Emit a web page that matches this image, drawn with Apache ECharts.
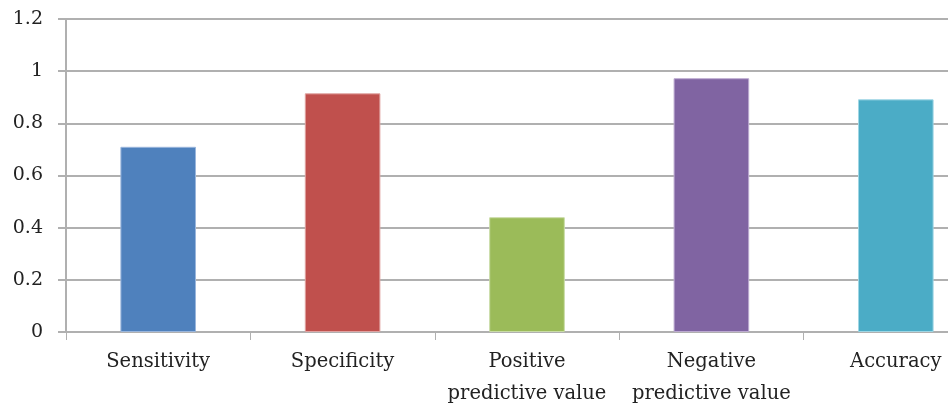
<!DOCTYPE html>
<html>
<head>
<meta charset="utf-8">
<script src="https://cdn.jsdelivr.net/npm/echarts@6/dist/echarts.min.js"></script>
<style>
  html, body { margin: 0; padding: 0; background: #ffffff; }
  #chart { width: 948px; height: 407px; }
</style>
</head>
<body>
<div id="chart"></div>
<script>
// Diagnostic performance measures
const categories = [
  'Sensitivity',
  'Specificity',
  'Positive\npredictive value',
  'Negative\npredictive value',
  'Accuracy'
];
const values = [0.71, 0.915, 0.44, 0.973, 0.892];
const barColors = ['#4f81bd', '#c0504d', '#9bbb59', '#8064a2', '#4bacc6'];
const edgeColors = ['#9ab6dc', '#e0a3a1', '#c9dca6', '#bcaad0', '#9fd6e4'];
const yTicks = { min: 0, max: 1.2, interval: 0.2 };

const fontFamily = '"DejaVu Serif", "Liberation Serif", serif';
const gridColor = '#b0b0b0';

const chart = echarts.init(document.getElementById('chart'), null, { renderer: 'canvas' });
chart.setOption({
  animation: false,
  backgroundColor: '#ffffff',
  // plot area runs past the right edge of the canvas
  grid: {
    left: 66, top: 19, width: 922, height: 313,
    containLabel: false,
    outerBoundsMode: 'none'
  },
  xAxis: {
    type: 'category',
    data: categories,
    boundaryGap: true,
    axisLine: { show: true, lineStyle: { color: gridColor, width: 2 } },
    axisTick: { show: true, length: 8, lineStyle: { color: gridColor, width: 1 } },
    axisLabel: {
      interval: 0,
      margin: 14,
      color: '#222222',
      fontFamily: fontFamily,
      fontSize: 19.5,
      lineHeight: 32
    },
    splitLine: { show: false }
  },
  yAxis: {
    type: 'value',
    min: yTicks.min,
    max: yTicks.max,
    interval: yTicks.interval,
    axisLine: { show: true, lineStyle: { color: gridColor, width: 2 } },
    axisTick: { show: true, length: 8, lineStyle: { color: gridColor, width: 2 } },
    axisLabel: {
      margin: 23,
      color: '#222222',
      fontFamily: fontFamily,
      fontSize: 19
    },
    splitLine: { show: true, lineStyle: { color: gridColor, width: 2 } }
  },
  series: [{
    type: 'bar',
    data: values.map((v, i) => ({
      value: v,
      itemStyle: { color: barColors[i], borderColor: edgeColors[i], borderWidth: 1 }
    })),
    barWidth: '41%'
  }]
});
</script>
</body>
</html>
